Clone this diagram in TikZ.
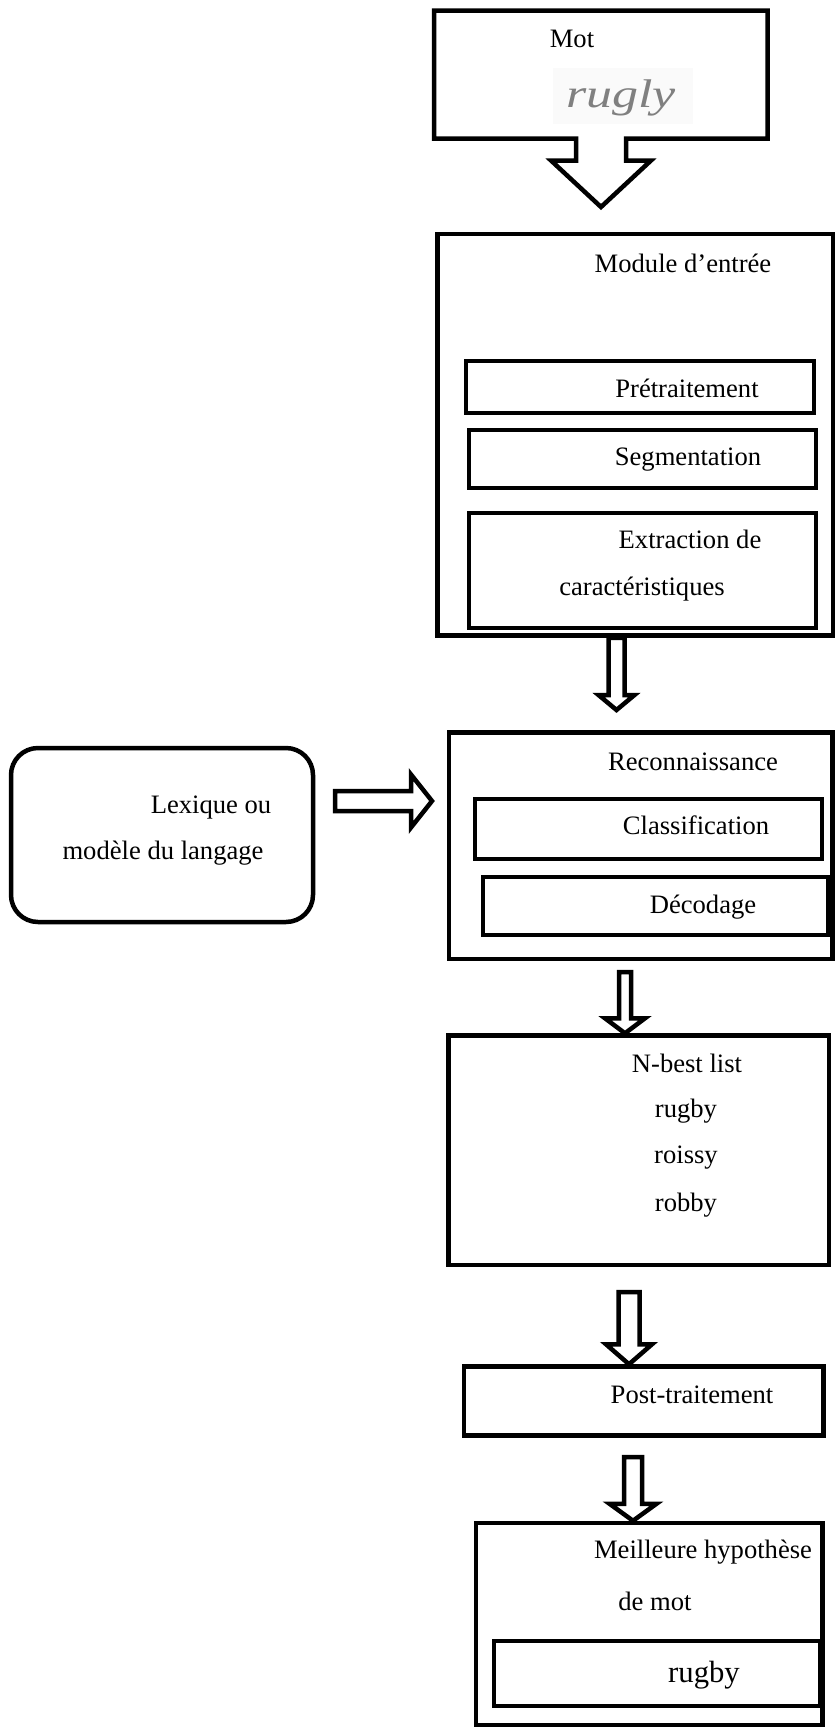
\documentclass[tikz,border=0pt]{standalone}
\usepackage{fontspec}
\setmainfont{Liberation Serif}
\usetikzlibrary{calc,fit}

\tikzset{
  frame/.style={draw=black, line width=4.5pt, inner sep=0pt},
  subframe/.style={draw=black, line width=4pt, inner sep=0pt},
  roundframe/.style={frame, rounded corners=27pt},
  lbl/.style={anchor=base, inner sep=0pt, font=\fontsize{26.6}{32}\selectfont},
  biglbl/.style={anchor=base, inner sep=0pt, font=\fontsize{30.7}{36}\selectfont},
  hand/.style={anchor=base, inner sep=0pt, text=black!50,
    font=\fontsize{40}{40}\selectfont\itshape},
  scanpanel/.style={fill=black!2, draw=none, inner sep=0pt},
  blk/.style={draw=black, line width=4.5pt, fill=white, line join=miter},
}

% hollow block arrow pointing down: tail, tip, shaft half width, head half width, head length
\newcommand{\downblock}[5]{%
  \draw[blk] let \p1=(#1), \p2=(#2) in
    (\x2,\y2) -- (\x2+#4pt,\y2+#5pt) -- (\x2+#3pt,\y2+#5pt) -- (\x2+#3pt,\y1)
    -- (\x2-#3pt,\y1) -- (\x2-#3pt,\y2+#5pt) -- (\x2-#4pt,\y2+#5pt) -- cycle;}
% hollow block arrow pointing right
\newcommand{\rightblock}[5]{%
  \draw[blk] let \p1=(#1), \p2=(#2) in
    (\x2,\y2) -- (\x2-#5pt,\y2+#4pt) -- (\x2-#5pt,\y2+#3pt) -- (\x1,\y2+#3pt)
    -- (\x1,\y2-#3pt) -- (\x2-#5pt,\y2-#3pt) -- (\x2-#5pt,\y2-#4pt) -- cycle;}

\begin{document}
\begin{tikzpicture}[x=1pt,y=-1pt]
\useasboundingbox (0,0) rectangle (836,1729);

% input word: box with a downward pointer
\draw[line width=4.5pt, line join=miter]
  (434,10.5) -- (767.5,10.5) -- (767.5,138.5) -- (626,138.5) -- (626,160.5)
  -- (651,160.5) -- (601,207) -- (551,160.5) -- (576,160.5) -- (576,138.5)
  -- (434,138.5) -- cycle;
\node[lbl] (mot) at (572,47) {Mot};
\node[scanpanel, fit={(553,68) (693,124)}] (scan) {};
\node[hand] (hw) at (621,107) {\scalebox{1.3}[1]{rugly}};

% input module
\node[frame, fit={(437.5,234) (833,635.5)}] (mod) {};
\node[lbl] (modt) at (683,272) {Module d’entrée};
\node[subframe, fit={(465.5,360.5) (813.5,413.3)}] (pre) {};
\node[lbl] (pret) at (687,397) {Prétraitement};
\node[subframe, fit={(469,429.5) (815.5,487.5)}] (seg) {};
\node[lbl] (segt) at (688,465) {Segmentation};
\node[subframe, fit={(469,512.5) (815.5,627.5)}] (ext) {};
\node[lbl] (extt1) at (690,548) {Extraction de};
\node[lbl] (extt2) at (642,595) {caractéristiques};

% lexicon / language model
\node[roundframe, fit={(11,748) (313,922)}] (lex) {};
\node[lbl] (lext1) at (211,813) {Lexique ou};
\node[lbl] (lext2) at (163,859) {modèle du langage};

% recognition
\node[frame, fit={(449,732.5) (832.5,959)}] (rec) {};
\node[lbl] (rect) at (693,770) {Reconnaissance};
\node[subframe, fit={(475,799) (821.5,858.5)}] (cla) {};
\node[lbl] (clat) at (696,834) {Classification};
\node[subframe, fit={(483,876.5) (828,935)}] (dec) {};
\node[lbl] (dect) at (703,913) {Décodage};

% N-best list
\node[frame, fit={(448.5,1035.5) (829,1265)}] (nb) {};
\node[lbl] (nbt) at (687,1072) {N-best list};
\node[lbl] (nb1) at (686,1117) {rugby};
\node[lbl] (nb2) at (686,1163) {roissy};
\node[lbl] (nb3) at (686,1211) {robby};

% post-processing
\node[frame, fit={(464,1366.5) (823.3,1435.5)}] (post) {};
\node[lbl] (postt) at (692,1403) {Post-traitement};

% best word hypothesis
\node[frame, fit={(476,1523) (822.5,1725)}] (best) {};
\node[lbl] (bestt1) at (703,1558) {Meilleure hypothèse};
\node[lbl] (bestt2) at (655,1610) {de mot};
\node[subframe, fit={(494,1640.5) (820,1706)}] (res) {};
\node[biglbl] (rest) at (704,1682) {rugby};

% block arrows
\coordinate (a1s) at (335,801);   \coordinate (a1e) at (432,801);
\coordinate (a2s) at (mod.south -| 616.5,0); \coordinate (a2e) at (616.5,710);
\coordinate (a3s) at (625,972);   \coordinate (a3e) at (nb.north -| 625,0);
\coordinate (a4s) at (629,1292);  \coordinate (a4e) at (post.north -| 629,0);
\coordinate (a5s) at (633,1457);  \coordinate (a5e) at (best.north -| 633,0);

\rightblock{a1s}{a1e}{10}{26.5}{21}
\downblock{a2s}{a2e}{8}{18}{15}
\downblock{a3s}{a3e}{6}{20}{15}
\downblock{a4s}{a4e}{10.5}{23}{20}
\downblock{a5s}{a5e}{9}{23.5}{17}
\end{tikzpicture}
\end{document}
